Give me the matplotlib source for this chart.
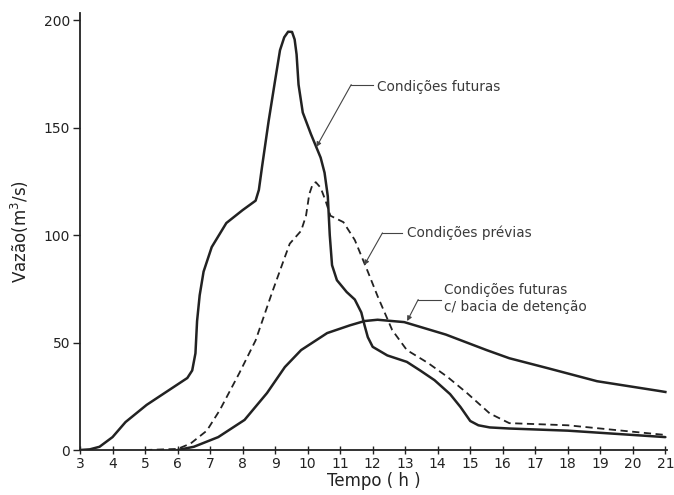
"""Hidrograma: condições prévias, futuras e futuras com bacia de detenção."""
import matplotlib
matplotlib.use("Agg")
import matplotlib.pyplot as plt

# Condições futuras (linha cheia)
t_fut = [3.0, 3.3, 3.6, 4.0, 4.4, 5.05, 5.75, 6.3, 6.45, 6.55, 6.6, 6.68, 6.8, 7.05,
         7.5, 8.0, 8.4, 8.5, 8.6, 8.8, 9.0, 9.15, 9.28, 9.4, 9.52, 9.6, 9.66, 9.72,
         9.85, 10.1, 10.4, 10.52, 10.62, 10.68, 10.75, 10.9, 11.2, 11.45, 11.65, 11.75,
         11.85, 12.0, 12.45, 13.05, 13.46, 13.9, 14.38, 14.7, 15.0, 15.25, 15.6, 16.2,
         18.0, 21.0]
q_fut = [0, 0.3, 1.5, 6, 13, 21, 28, 33.5, 37, 45, 60, 72, 83, 94.4,
         105.6, 111.6, 116, 121, 132, 153, 172, 186, 192, 194.6, 194.5, 191, 184, 170,
         157, 147, 136, 129, 118, 100, 86, 79, 73.5, 70, 64, 58,
         52.5, 48, 44, 41, 37, 32.5, 26, 20, 13.5, 11.5, 10.5, 10,
         9, 6]

# Condições prévias (tracejada)
t_prev = [5.0, 6.0, 6.4, 6.9, 7.3, 7.9, 8.4, 8.9, 9.3, 9.45, 9.8, 9.95, 10.05, 10.15,
          10.25, 10.4, 10.55, 10.7, 11.1, 11.45, 11.85, 12.15, 12.6, 13.05, 13.7, 14.3,
          14.9, 15.6, 16.2, 18.0, 21.0]
q_prev = [0, 0.5, 3, 9, 18.6, 35.8, 51, 73, 89.8, 96, 102, 109, 119, 123.5,
          124.6, 122, 116, 109, 106, 97.7, 83, 71.6, 55.8, 46.5, 40.5, 34,
          26.5, 17, 12.5, 11.5, 7]

# Condições futuras c/ bacia de detenção
t_det = [6.0, 6.5, 7.25, 8.06, 8.75, 9.3, 9.8, 10.6, 11.3, 11.75, 12.15, 12.97, 14.25,
         15.5, 16.2, 17.4, 18.9, 20.8, 21.0]
q_det = [0, 1.5, 6, 14, 26.5, 38.6, 46.5, 54.4, 58, 60, 60.6, 59.5, 53.7,
         46.5, 42.7, 38, 32, 27.5, 27]

x_ticks = list(range(3, 22))
y_ticks = [0, 50, 100, 150, 200]

ink = "#222222"
fig = plt.figure(figsize=(6.74, 4.95), dpi=100)
ax = fig.add_axes([0.1187, 0.0909, 0.8709, 0.8828])

ax.plot(t_fut, q_fut, color=ink, lw=1.8, solid_joinstyle="round", solid_capstyle="round")
ax.plot(t_prev, q_prev, color=ink, lw=1.3, ls=(0, (4, 2.5)))
ax.plot(t_det, q_det, color=ink, lw=1.8, solid_joinstyle="round")

ax.set_xlim(3, 21.05)
ax.set_ylim(0, 203.3)
ax.set_xticks(x_ticks)
ax.set_yticks(y_ticks)
for s in ("top", "right"):
    ax.spines[s].set_visible(False)
for s in ("left", "bottom"):
    ax.spines[s].set_color(ink)
    ax.spines[s].set_linewidth(1.3)
ax.tick_params(axis="x", direction="inout", length=6, width=1, colors=ink,
               labelsize=10, pad=2)
ax.tick_params(axis="y", direction="out", length=5, width=1, colors=ink,
               labelsize=10, pad=2)

ax.set_xlabel("Tempo ( h )", fontsize=12, color=ink, labelpad=1)
ax.set_ylabel("Vazão(m$^3$/s)", fontsize=12, color=ink, labelpad=9)

lbl = dict(fontsize=9.8, color="#3a3a3a", va="center", ha="left")
lead = dict(color="#444444", lw=0.8)
arrow = dict(arrowstyle="-|>", color="#444444", lw=0.8, mutation_scale=7,
             shrinkA=0, shrinkB=0)

# Condições futuras
ax.text(12.14, 169, "Condições futuras", **lbl)
ax.plot([11.34, 12.0], [170, 170], **lead)
ax.annotate("", xy=(10.27, 141), xytext=(11.34, 170), arrowprops=arrow)

# Condições prévias
ax.text(13.06, 101, "Condições prévias", **lbl)
ax.plot([12.3, 12.9], [101, 101], **lead)
ax.annotate("", xy=(11.74, 86), xytext=(12.3, 101), arrowprops=arrow)

# Condições futuras c/ bacia de detenção
ax.text(14.2, 70.5, "Condições futuras\nc/ bacia de detenção", linespacing=1.25, **lbl)
ax.plot([13.4, 14.1], [70, 70], **lead)
ax.annotate("", xy=(13.06, 60), xytext=(13.4, 70), arrowprops=arrow)

fig.savefig("out.png", dpi=100)
